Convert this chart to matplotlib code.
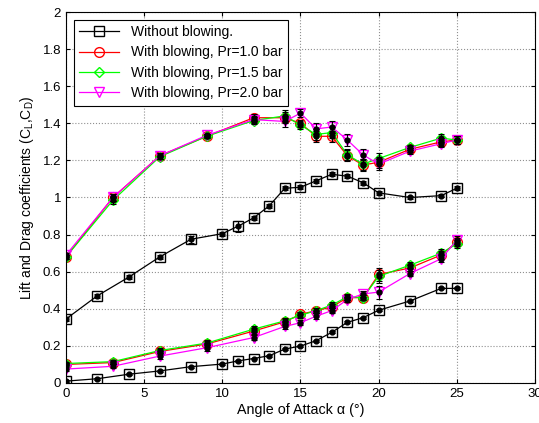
import matplotlib
matplotlib.use("Agg")
import matplotlib.pyplot as plt
import numpy as np

plt.rcParams['font.family'] = ['Liberation Sans', 'DejaVu Sans']

# Without blowing
x_nb = [0, 2, 4, 6, 8, 10, 11, 12, 13, 14, 15, 16, 17, 18, 19, 20, 22, 24, 25]
cl_nb = [0.345, 0.47, 0.57, 0.68, 0.775, 0.805, 0.845, 0.89, 0.955, 1.05, 1.055,
         1.09, 1.125, 1.115, 1.08, 1.025, 1.0, 1.01, 1.05]
cd_nb = [0.01, 0.023, 0.047, 0.065, 0.088, 0.102, 0.119, 0.132, 0.147, 0.183, 0.199,
         0.228, 0.273, 0.327, 0.352, 0.392, 0.442, 0.51, 0.51]
cl_nb_err = [0.01, 0.01, 0.01, 0.01, 0.02, 0.01, 0.03, 0.01, 0.01, 0.01, 0.01,
             0.01, 0.01, 0.01, 0.01, 0.01, 0.01, 0.01, 0.01]
cd_nb_err = [0.005] * 19

# With blowing
x_b = [0, 3, 6, 9, 12, 14, 15, 16, 17, 18, 19, 20, 22, 24, 25]
cl_10 = [0.68, 1.0, 1.225, 1.33, 1.43, 1.43, 1.40, 1.33, 1.33, 1.225, 1.175, 1.19, 1.26, 1.30, 1.31]
cl_15 = [0.68, 0.985, 1.22, 1.33, 1.415, 1.44, 1.39, 1.34, 1.35, 1.23, 1.18, 1.21, 1.27, 1.32, 1.31]
cl_20 = [0.69, 1.0, 1.225, 1.335, 1.42, 1.41, 1.455, 1.37, 1.38, 1.31, 1.23, 1.18, 1.25, 1.29, 1.31]
cd_10 = [0.10, 0.11, 0.17, 0.21, 0.28, 0.33, 0.37, 0.39, 0.41, 0.46, 0.46, 0.585, 0.62, 0.69, 0.76]
cd_15 = [0.105, 0.115, 0.175, 0.215, 0.29, 0.335, 0.365, 0.39, 0.42, 0.465, 0.46, 0.575, 0.635, 0.70, 0.75]
cd_20 = [0.075, 0.09, 0.145, 0.19, 0.245, 0.305, 0.325, 0.36, 0.39, 0.45, 0.48, 0.49, 0.59, 0.67, 0.77]
cl_err = [0.01, 0.02, 0.015, 0.01, 0.02, 0.03, 0.02, 0.03, 0.03, 0.03, 0.03, 0.03, 0.015, 0.02, 0.02]
cd_err = [0.01, 0.01, 0.015, 0.015, 0.015, 0.015, 0.015, 0.015, 0.015, 0.015, 0.015, 0.035, 0.015, 0.02, 0.02]

labels = ['Without blowing.', 'With blowing, Pr=1.0 bar',
          'With blowing, Pr=1.5 bar', 'With blowing, Pr=2.0 bar']

fig = plt.figure(figsize=(5.39, 4.23), dpi=100)
ax = fig.add_axes([0.1225, 0.0946, 0.870, 0.877])

ax.grid(True, color='#909090', linestyle=':', linewidth=0.8)
ax.set_axisbelow(True)

series = [
    (x_nb, cl_nb, cd_nb, cl_nb_err, cd_nb_err, 'black', 's', labels[0]),
    (x_b, cl_10, cd_10, cl_err, cd_err, 'red', 'o', labels[1]),
    (x_b, cl_15, cd_15, cl_err, cd_err, '#00ff00', 'D', labels[2]),
    (x_b, cl_20, cd_20, cl_err, cd_err, 'magenta', 'v', labels[3]),
]

handles = []
for xs, cl, cd, e1, e2, col, mk, lab in series:
    ms = 7 if mk != 'D' else 5.5
    h, = ax.plot(xs, cl, color=col, marker=mk, mfc='none', mec=col, ms=ms, lw=0.9, label=lab)
    ax.plot(xs, cd, color=col, marker=mk, mfc='none', mec=col, ms=ms, lw=0.9)
    handles.append(h)

for xs, cl, cd, e1, e2, col, mk, lab in series:
    ax.errorbar(xs, cl, yerr=e1, fmt='o', color='black', ms=3.5, capsize=2.5, elinewidth=0.8, capthick=0.8)
    ax.errorbar(xs, cd, yerr=e2, fmt='o', color='black', ms=3.5, capsize=2.5, elinewidth=0.8, capthick=0.8)

ax.set_xlim(0, 30)
ax.set_ylim(0, 2)
ax.set_xticks(np.arange(0, 31, 5))
ax.set_yticks(np.arange(0, 2.01, 0.2))
ax.set_yticklabels(['0', '0.2', '0.4', '0.6', '0.8', '1', '1.2', '1.4', '1.6', '1.8', '2'])
ax.tick_params(direction='in', top=True, right=True, labelsize=9.5, length=3)
for s in ax.spines.values():
    s.set_linewidth(0.8)

ax.set_xlabel('Angle of Attack α (°)', fontsize=10.3, labelpad=2)
ax.set_ylabel('Lift and Drag coefficients (C$_\\mathregular{L}$,C$_\\mathregular{D}$)', fontsize=10, labelpad=5)

leg = ax.legend(handles=handles, loc='upper left', fontsize=10, frameon=True, fancybox=False,
                edgecolor='black', framealpha=1, handlelength=2.9, borderaxespad=0.55,
                labelspacing=0.45, handletextpad=0.8, borderpad=0.4)
leg.get_frame().set_linewidth(0.8)

fig.savefig('out.png', dpi=100)
